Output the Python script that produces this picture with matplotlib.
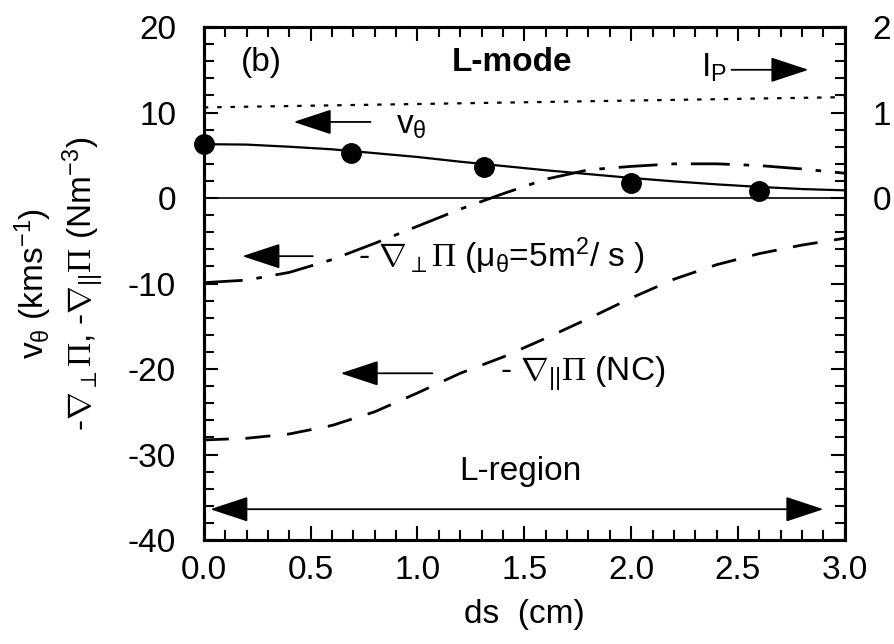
import numpy as np
import matplotlib.pyplot as plt
from matplotlib.ticker import MultipleLocator, FixedLocator, FixedFormatter

plt.rcParams['font.family'] = ['Liberation Sans', 'DejaVu Sans']
plt.rcParams['axes.unicode_minus'] = False
plt.rcParams['mathtext.fontset'] = 'custom'
plt.rcParams['mathtext.rm'] = 'Liberation Sans'
plt.rcParams['mathtext.it'] = 'Liberation Sans'
plt.rcParams['mathtext.bf'] = 'Liberation Sans:bold'
plt.rcParams['mathtext.sf'] = 'Liberation Serif'

# curves
ds = [0.0, 0.2, 0.4, 0.6, 0.8, 1.0, 1.2, 1.4, 1.6, 1.8, 2.0, 2.2, 2.4, 2.6, 2.8, 3.0]
v_theta = [6.3, 6.25, 6.0, 5.7, 5.25, 4.8, 4.25, 3.75, 3.25, 2.8, 2.35, 1.95, 1.6, 1.3, 1.05, 0.9]
perp_visc = [-9.9, -9.6, -8.7, -7.2, -5.3, -3.3, -1.3, 0.5, 2.2, 3.3, 3.7, 4.0, 4.0, 3.8, 3.4, 2.9]
par_visc = [-28.3, -28.1, -27.6, -26.6, -25.0, -22.8, -20.5, -18.6, -16.4, -14.1, -11.7, -9.5, -7.8, -6.5, -5.5, -4.7]

ds_ip = [0.0, 1.0, 2.0, 3.0]
ip_line = [10.6, 11.0, 11.4, 11.8]

ds_meas = [0.0, 0.69, 1.31, 2.0, 2.6]
v_meas = [6.3, 5.3, 3.6, 1.7, 0.85]

NAB = r'\mathsf{\nabla}'
PI = r'\mathsf{\Pi}'

fig = plt.figure(figsize=(8.94, 6.44), dpi=100)
ax = fig.add_axes([0.228, 0.1615, 0.717, 0.7965])

ax.plot(ds, v_theta, color='k', lw=1.6)
ax.plot(ds, perp_visc, color='k', lw=2.0, dashes=[14, 5, 2, 5])
ax.plot(ds, par_visc, color='k', lw=2.0, dashes=[9, 6])
ax.plot(ds_ip, ip_line, color='k', lw=1.6, dashes=[2, 4])
ax.plot(ds_meas, v_meas, 'o', color='k', ms=14, clip_on=False, zorder=5)
ax.axhline(0, color='k', lw=1.2)

ax.set_xlim(0, 3.0)
ax.set_ylim(-40, 20)
ax.xaxis.set_major_locator(MultipleLocator(0.5))
ax.xaxis.set_minor_locator(MultipleLocator(0.1))
ax.yaxis.set_major_locator(MultipleLocator(10))
ax.yaxis.set_minor_locator(MultipleLocator(2))
ax.xaxis.set_major_formatter(plt.FormatStrFormatter('%.1f'))
ax.tick_params(which='both', direction='in', top=True, right=False, width=1.5, labelsize=24)
ax.tick_params(which='major', length=10)
ax.tick_params(which='minor', length=7)
ax.tick_params(axis='x', pad=11)
ax.tick_params(axis='y', pad=20)
for sp in ax.spines.values():
    sp.set_linewidth(2.2)

ax2 = ax.twinx()
ax2.set_ylim(-4, 2)
ax2.yaxis.set_major_locator(FixedLocator([-4, -3, -2, -1, 0, 1, 2]))
ax2.yaxis.set_major_formatter(FixedFormatter(['', '', '', '', '0', '1', '2']))
ax2.yaxis.set_minor_locator(MultipleLocator(0.2))
ax2.tick_params(which='both', direction='in', width=1.5, labelsize=24, pad=20)
ax2.tick_params(which='major', length=10)
ax2.tick_params(which='minor', length=7)
for sp in ax2.spines.values():
    sp.set_linewidth(2.2)

ax.set_xlabel('ds  (cm)', fontsize=24, labelpad=9)
fig.text(0.037, 0.56, r'$v_{\theta}$ (kms$^{-1}$)', rotation=90, fontsize=24,
         ha='center', va='center')
fig.text(0.093, 0.56, r'-$' + NAB + r'_{\perp}' + PI + r'$, -$' + NAB + r'_{||}' + PI + r'$ (Nm$^{-3}$)',
         rotation=90, fontsize=24, ha='center', va='center')

ax.text(0.27, 15.8, '(b)', fontsize=24, ha='center', va='center')
ax.text(1.44, 15.9, 'L-mode', fontsize=24, fontweight='bold', ha='center', va='center')
ax.text(2.45, 15.2, r'$\mathrm{I_P}$', fontsize=24, ha='right', va='center')

arrow = dict(arrowstyle='-|>,head_length=1.0,head_width=0.33', color='k', lw=1.3,
             mutation_scale=24, shrinkA=0, shrinkB=0)
ax.annotate('', xy=(2.83, 15.0), xytext=(2.47, 15.0), arrowprops=arrow)
ax.annotate('', xy=(0.42, 8.9), xytext=(0.78, 8.9), arrowprops=arrow)
ax.text(0.9, 8.5, r'$v_{\theta}$', fontsize=24, ha='left', va='center')
ax.annotate('', xy=(0.18, -6.8), xytext=(0.51, -6.8), arrowprops=arrow)
ax.text(0.72, -6.8, r'- $' + NAB + r'_{\perp}' + PI + r'$ ($\mu_{\theta}$=5m$^2$/ s )',
        fontsize=24, ha='left', va='center')
ax.annotate('', xy=(0.64, -20.5), xytext=(1.07, -20.5), arrowprops=arrow)
ax.text(1.385, -20.5, r'- $' + NAB + r'_{||}' + PI + r'$ (NC)', fontsize=24, ha='left', va='center')

arrow2 = dict(arrow, arrowstyle='<|-|>,head_length=1.0,head_width=0.33')
ax.annotate('', xy=(2.9, -36.4), xytext=(0.03, -36.4), arrowprops=arrow2)
ax.text(1.48, -32.0, 'L-region', fontsize=24, ha='center', va='center')

fig.savefig('out.png', dpi=100)
